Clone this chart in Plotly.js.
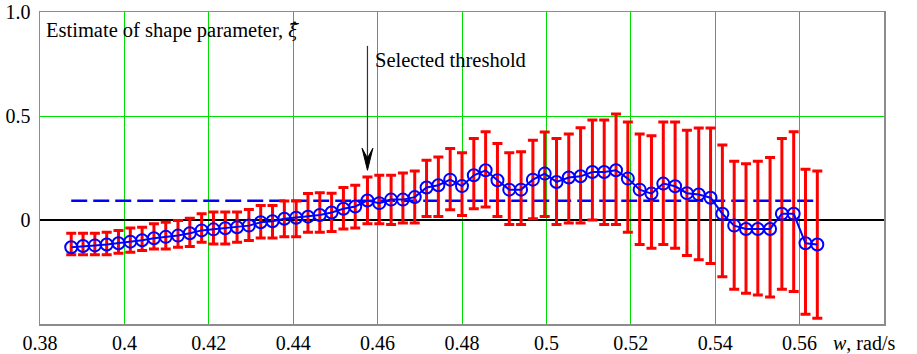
<!DOCTYPE html>
<html>
<head>
<meta charset="utf-8">
<script src="https://cdn.plot.ly/plotly-3.0.1.min.js"></script>
<style>html,body{margin:0;padding:0;background:#fff;}#chart{width:917px;height:354px;}</style>
</head>
<body>
<div id="chart"></div>
<script>
// threshold values, rad/s
const xw = [0.3874,0.3902,0.3930,0.3958,0.3986,0.4014,0.4042,0.4070,0.4098,0.4127,
            0.4155,0.4183,0.4211,0.4239,0.4267,0.4295,0.4323,0.4351,0.4379,0.4407,
            0.4435,0.4463,0.4491,0.4519,0.4547,0.4576,0.4604,0.4632,0.4660,0.4688,
            0.4716,0.4744,0.4772,0.4800,0.4828,0.4856,0.4884,0.4912,0.4940,0.4968,
            0.4996,0.5024,0.5053,0.5081,0.5109,0.5137,0.5165,0.5193,0.5221,0.5249,
            0.5277,0.5305,0.5333,0.5361,0.5389,0.5417,0.5445,0.5473,0.5501,0.5530,
            0.5558,0.5586,0.5614,0.5642];
// estimate of shape parameter
const xiHat = [-0.131,-0.125,-0.122,-0.118,-0.112,-0.104,-0.097,-0.088,-0.081,-0.075,
               -0.064,-0.050,-0.045,-0.040,-0.035,-0.027,-0.011,-0.006,0.006,0.011,
               0.016,0.024,0.036,0.054,0.065,0.094,0.081,0.098,0.098,0.110,
               0.156,0.167,0.194,0.163,0.215,0.239,0.191,0.146,0.146,0.194,
               0.223,0.183,0.204,0.210,0.231,0.231,0.239,0.199,0.146,0.127,
               0.175,0.162,0.129,0.123,0.107,0.030,-0.027,-0.043,-0.043,-0.043,
               0.030,0.030,-0.112,-0.118];
// confidence interval upper bound
const ciUpper = [-0.064,-0.064,-0.064,-0.059,-0.051,-0.038,-0.035,-0.018,-0.011,-0.002,
                 0.008,0.030,0.038,0.038,0.038,0.051,0.070,0.070,0.091,0.091,
                 0.127,0.131,0.129,0.156,0.167,0.207,0.215,0.215,0.226,0.236,
                 0.287,0.303,0.344,0.323,0.392,0.424,0.368,0.323,0.328,0.384,
                 0.423,0.392,0.413,0.443,0.481,0.481,0.510,0.471,0.413,0.405,
                 0.471,0.471,0.432,0.442,0.442,0.360,0.283,0.271,0.283,0.300,
                 0.392,0.424,0.244,0.236];
// confidence interval lower bound
const ciLower = [-0.167,-0.167,-0.167,-0.167,-0.160,-0.155,-0.147,-0.139,-0.139,-0.131,
                 -0.127,-0.107,-0.115,-0.115,-0.107,-0.099,-0.086,-0.086,-0.080,-0.080,
                 -0.059,-0.059,-0.055,-0.043,-0.038,-0.018,-0.018,-0.022,-0.015,-0.015,
                 0.017,0.017,0.049,0.022,0.054,0.062,0.017,-0.022,-0.022,0.006,
                 0.017,-0.022,-0.015,-0.015,0.000,-0.022,-0.022,-0.059,-0.118,-0.136,
                 -0.118,-0.136,-0.171,-0.191,-0.209,-0.273,-0.333,-0.352,-0.361,-0.370,
                 -0.333,-0.344,-0.453,-0.472];
const selectedIndex = 25;
const selectedXi = 0.093;
const xTickVals = [0.38,0.40,0.42,0.44,0.46,0.48,0.50,0.52,0.54,0.56];
const xTickText = ['0.38','0.4','0.42','0.44','0.46','0.48','0.5','0.52','0.54','0.56'];
const yTickVals = [0, 0.5, 1.0];
const yTickText = ['0','0.5','1.0'];

const FONT = 'Liberation Serif, Times New Roman, serif';
const GREEN = '#00dd00';

const errPlus = xiHat.map((v,i) => ciUpper[i] - v);
const errMinus = xiHat.map((v,i) => v - ciLower[i]);

const traces = [
  {
    x: [xw[0], xw[xw.length-1]],
    y: [selectedXi, selectedXi],
    mode: 'lines',
    line: {color: '#0000ff', width: 2.5, dash: '16px,6px'},
    hoverinfo: 'skip',
    showlegend: false
  },
  {
    x: xw,
    y: xiHat,
    mode: 'lines+markers',
    line: {color: '#0000ff', width: 2},
    marker: {symbol: 'circle-open', size: 12, color: '#0000ff', line: {width: 2, color: '#0000ff'}},
    error_y: {type: 'data', symmetric: false, array: errPlus, arrayminus: errMinus,
              color: '#ff0000', thickness: 3, width: 5},
    showlegend: false
  }
];

// arrow pointing at the selected threshold
const xs = xw[selectedIndex];
const tipY = 0.239, barbY = 0.345, notchY = 0.298, tailY = 0.837, halfW = 0.00128;

const layout = {
  width: 917, height: 354,
  margin: {l: 40, r: 33, t: 12, b: 30, pad: 0},
  paper_bgcolor: '#fff', plot_bgcolor: '#fff',
  font: {family: FONT, size: 20, color: '#000'},
  showlegend: false,
  xaxis: {
    range: [0.38, 0.58], tickmode: 'array', tickvals: xTickVals, ticktext: xTickText,
    showgrid: true, gridcolor: GREEN, gridwidth: 1, zeroline: false,
    showline: true, mirror: true, linecolor: '#8c8c8c', linewidth: 1.5,
    ticks: '', ticklabelstandoff: 0,
    tickfont: {family: FONT, size: 20, color: '#000'}
  },
  yaxis: {
    range: [-0.5, 1.0], tickmode: 'array', tickvals: yTickVals, ticktext: yTickText,
    showgrid: true, gridcolor: GREEN, gridwidth: 1,
    zeroline: true, zerolinecolor: '#000', zerolinewidth: 2,
    showline: true, mirror: true, linecolor: '#8c8c8c', linewidth: 1.5,
    ticks: '', ticklabelstandoff: 4,
    tickfont: {family: FONT, size: 20, color: '#000'}
  },
  shapes: [
    {type: 'rect', layer: 'between', xref: 'paper', yref: 'paper',
     x0: 0.002, x1: 0.318, y0: 0.878, y1: 0.993, fillcolor: '#fff', line: {width: 0}},
    {type: 'rect', layer: 'between', xref: 'paper', yref: 'paper',
     x0: 0.392, x1: 0.585, y0: 0.792, y1: 0.891, fillcolor: '#fff', line: {width: 0}},
    {type: 'line', layer: 'above', xref: 'x', yref: 'y', x0: xs, x1: xs, y0: notchY, y1: tailY,
     line: {color: '#333', width: 1.2}},
    {type: 'path', layer: 'above', xref: 'x', yref: 'y',
     path: `M${xs},${tipY} L${xs - halfW},${barbY} L${xs},${notchY} L${xs + halfW},${barbY} Z`,
     fillcolor: '#000', line: {color: '#000', width: 1}}
  ],
  annotations: [
    {xref: 'paper', yref: 'paper', x: 0.005, y: 0.94, xanchor: 'left', yanchor: 'middle',
     text: 'Estimate of shape parameter, <span style="font-family:DejaVu Serif;font-size:18px"><i>\u03BE\u0302</i></span>', showarrow: false,
     font: {family: FONT, size: 20.5, color: '#000'}},
    {xref: 'paper', yref: 'paper', x: 0.394, y: 0.845, xanchor: 'left', yanchor: 'middle',
     text: 'Selected threshold', showarrow: false,
     font: {family: FONT, size: 20.5, color: '#000'}},
    {xref: 'paper', yref: 'paper', x: 0.937, y: -0.06, xanchor: 'left', yanchor: 'middle',
     text: '<i>w</i>, rad/s', showarrow: false,
     font: {family: FONT, size: 20, color: '#000'}}
  ]
};

Plotly.newPlot('chart', traces, layout, {displayModeBar: false, staticPlot: true});
</script>
</body>
</html>
